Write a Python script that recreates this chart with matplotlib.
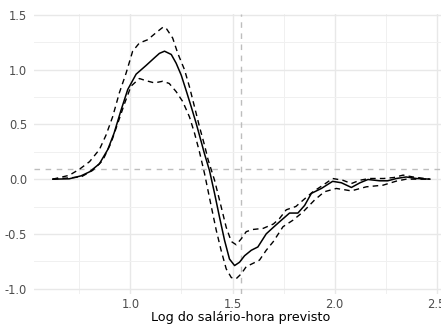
import matplotlib
matplotlib.use('Agg')
import matplotlib.pyplot as plt
from matplotlib.ticker import MultipleLocator

# efeito estimado (linha cheia)
x_est = [0.62, 0.70, 0.758, 0.80, 0.848, 0.889, 0.92, 0.954, 0.987, 1.028, 1.077, 1.118,
         1.142, 1.167, 1.2, 1.224, 1.249, 1.273, 1.298, 1.322, 1.347, 1.363, 1.387, 1.412,
         1.436, 1.461, 1.485, 1.51, 1.534, 1.559, 1.592, 1.624, 1.665, 1.70, 1.73, 1.779,
         1.82, 1.853, 1.886, 1.935, 1.99, 2.033, 2.082, 2.123, 2.163, 2.22, 2.26, 2.302,
         2.35, 2.4, 2.466]
y_est = [0.0, 0.003, 0.03, 0.067, 0.14, 0.27, 0.42, 0.63, 0.82, 0.96, 1.04, 1.11,
         1.15, 1.17, 1.14, 1.06, 0.95, 0.81, 0.66, 0.51, 0.34, 0.23, 0.08, -0.13,
         -0.345, -0.56, -0.73, -0.79, -0.76, -0.70, -0.65, -0.62, -0.50, -0.44, -0.39, -0.31,
         -0.31, -0.24, -0.13, -0.085, -0.02, -0.033, -0.076, -0.034, -0.003, -0.015, -0.015, 0.006,
         0.02, 0.006, 0.0]

# limite superior
x_up = [0.62, 0.70, 0.75, 0.80, 0.848, 0.88, 0.913, 0.946, 0.979, 1.011, 1.044, 1.085,
        1.126, 1.16, 1.175, 1.207, 1.232, 1.265, 1.289, 1.314, 1.338, 1.363, 1.38, 1.412,
        1.444, 1.469, 1.494, 1.518, 1.543, 1.567, 1.6, 1.65, 1.70, 1.73, 1.763, 1.81,
        1.853, 1.894, 1.943, 1.99, 2.04, 2.082, 2.123, 2.17, 2.24, 2.29, 2.335, 2.384, 2.466]
y_up = [0.0, 0.035, 0.09, 0.16, 0.27, 0.40, 0.57, 0.79, 0.97, 1.17, 1.245, 1.275,
        1.34, 1.39, 1.38, 1.29, 1.15, 1.0, 0.845, 0.66, 0.48, 0.31, 0.18, -0.01,
        -0.25, -0.44, -0.57, -0.60, -0.545, -0.48, -0.46, -0.45, -0.41, -0.36, -0.28, -0.25,
        -0.18, -0.115, -0.055, 0.006, -0.01, -0.04, -0.01, 0.006, 0.006, 0.015, 0.037, 0.02, 0.0]

# limite inferior
x_lo = [0.62, 0.758, 0.815, 0.864, 0.905, 0.938, 0.971, 1.003, 1.044, 1.077, 1.118, 1.158,
        1.19, 1.224, 1.256, 1.289, 1.314, 1.338, 1.363, 1.396, 1.42, 1.444, 1.469, 1.494,
        1.518, 1.543, 1.567, 1.6, 1.632, 1.665, 1.70, 1.747, 1.796, 1.845, 1.902, 1.95,
        2.008, 2.082, 2.155, 2.237, 2.302, 2.35, 2.466]
y_lo = [0.0, 0.02, 0.08, 0.17, 0.33, 0.51, 0.69, 0.85, 0.92, 0.90, 0.88, 0.895,
        0.875, 0.80, 0.71, 0.57, 0.42, 0.25, 0.05, -0.25, -0.465, -0.65, -0.82, -0.90,
        -0.91, -0.865, -0.80, -0.77, -0.74, -0.65, -0.57, -0.435, -0.375, -0.30, -0.19, -0.115,
        -0.085, -0.107, -0.07, -0.055, -0.018, 0.0, 0.0]

h_ref = 0.09
v_ref = 1.543

fig = plt.figure(figsize=(4.41, 3.24), dpi=100)
ax = fig.add_axes([34/441, 1 - 294/324, 413/441, 280/324])

ax.set_xlim(0.528, 2.55)
ax.set_ylim(-1.05, 1.51)
ax.xaxis.set_major_locator(MultipleLocator(0.5))
ax.xaxis.set_minor_locator(MultipleLocator(0.25))
ax.yaxis.set_major_locator(MultipleLocator(0.5))
ax.yaxis.set_minor_locator(MultipleLocator(0.25))
ax.grid(which='major', color='#e8e8e8', linewidth=1.0)
ax.grid(which='minor', color='#f0f0f0', linewidth=0.7)
ax.set_axisbelow(True)
for s in ax.spines.values():
    s.set_visible(False)
ax.tick_params(which='both', length=0, colors='#4d4d4d', labelsize=8.3)
ax.tick_params(axis='x', pad=3)
ax.tick_params(axis='y', pad=5)
ax.xaxis.set_major_formatter(matplotlib.ticker.FormatStrFormatter('%.1f'))
ax.yaxis.set_major_formatter(matplotlib.ticker.FormatStrFormatter('%.1f'))

ax.axhline(h_ref, color='#bdbdbd', linestyle=(0, (4, 4)), linewidth=1.0)
ax.axvline(v_ref, color='#bdbdbd', linestyle=(0, (4, 4)), linewidth=1.0)

ax.plot(x_up, y_up, color='black', linestyle=(0, (4, 3)), linewidth=1.0)
ax.plot(x_lo, y_lo, color='black', linestyle=(0, (4, 3)), linewidth=1.0)
ax.plot(x_est, y_est, color='black', linewidth=1.1)

ax.set_xlabel('Log do salário-hora previsto', fontsize=9.2, labelpad=0)

fig.savefig('out.png', dpi=100)
